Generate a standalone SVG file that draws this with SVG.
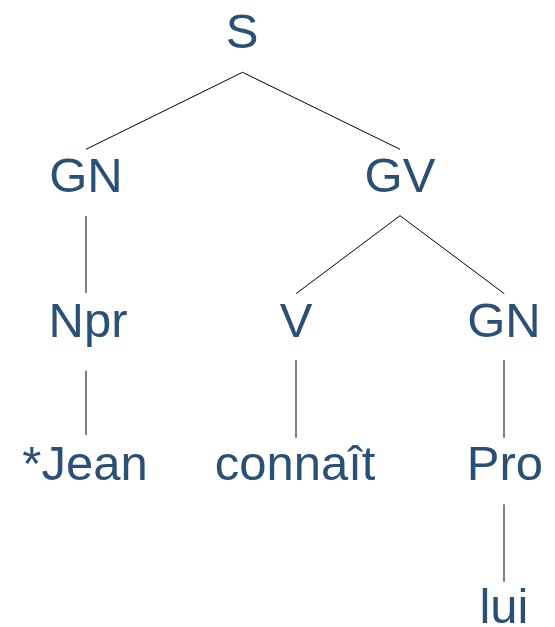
<svg xmlns="http://www.w3.org/2000/svg" width="555" height="627" viewBox="0 0 555 627">
<style>
text{font-family:"Liberation Sans",Arial,sans-serif;font-size:49px;fill:#2b5076;text-anchor:middle}
.e line{stroke:#000;stroke-width:1;fill:none}
</style>
<rect width="555" height="627" fill="#fff"/>
<g class="e" id="edges">
<line x1="242.5" y1="72.3" x2="86" y2="149.3"/>
<line x1="242.5" y1="72.3" x2="400" y2="149.3"/>
<line x1="86" y1="216" x2="86" y2="293"/>
<line x1="400" y1="215.7" x2="296" y2="293.7"/>
<line x1="400" y1="215.7" x2="504.3" y2="293.7"/>
<line x1="86" y1="370.7" x2="86" y2="435"/>
<line x1="296" y1="360" x2="296" y2="437.7"/>
<line x1="504" y1="360" x2="504" y2="437.7"/>
<line x1="504" y1="504.3" x2="504" y2="581.7"/>
</g>
<g id="S"><text x="242" y="48">S</text></g>
<g id="GN1"><text x="86" y="192">GN</text></g>
<g id="GV"><text x="400" y="192">GV</text></g>
<g id="Npr"><text x="88" y="337">Npr</text></g>
<g id="V"><text x="296" y="337">V</text></g>
<g id="GN2"><text x="504" y="337">GN</text></g>
<g id="Jean"><text x="85" y="480">*Jean</text></g>
<g id="connait"><text x="295" y="480">connaît</text></g>
<g id="Pro"><text x="505" y="480">Pro</text></g>
<g id="lui"><text x="504" y="623">lui</text></g>
</svg>
